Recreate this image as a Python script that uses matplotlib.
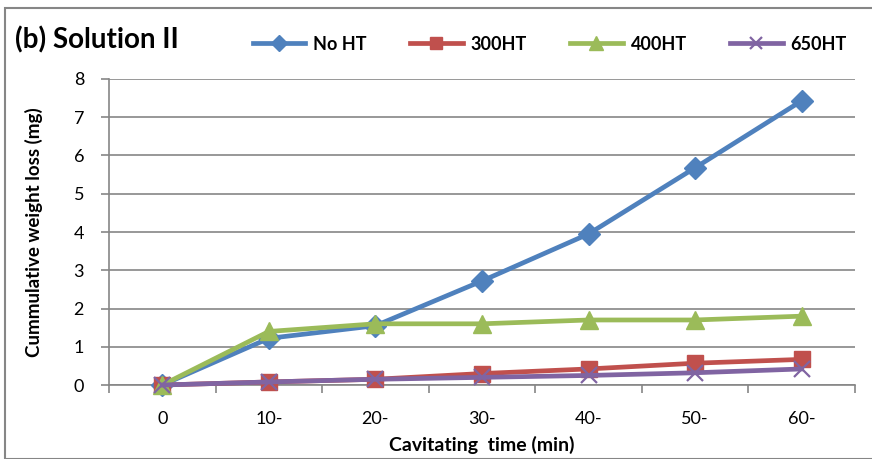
import matplotlib
matplotlib.use("Agg")
import matplotlib.pyplot as plt
from matplotlib.patches import Rectangle
import numpy as np

plt.rcParams['font.family'] = ['Lato', 'DejaVu Sans']

categories = ["0", "10-", "20-", "30-", "40-", "50-", "60-"]
no_ht = [0, 1.22, 1.55, 2.72, 3.95, 5.68, 7.43]
ht300 = [0, 0.08, 0.15, 0.30, 0.42, 0.57, 0.67]
ht400 = [0, 1.40, 1.60, 1.60, 1.70, 1.70, 1.80]
ht650 = [0, 0.08, 0.15, 0.20, 0.25, 0.32, 0.42]
yticks = [0, 1, 2, 3, 4, 5, 6, 7, 8]

fig = plt.figure(figsize=(8.72, 4.59), dpi=100)
ax = fig.add_axes([0.125, 0.1612, 0.8555, 0.6667])

x = np.arange(len(categories))
lw = 3.4
series = [
    ("No HT", no_ht, "#4F81BD", "D", 11),
    ("300HT", ht300, "#C0504D", "s", 11),
    ("400HT", ht400, "#9BBB59", "^", 13),
    ("650HT", ht650, "#8064A2", "x", 11),
]
handles = []
for name, vals, col, mk, ms in series:
    kw = dict(color=col, lw=lw, marker=mk, markersize=ms, markerfacecolor=col,
              markeredgecolor=col, label=name, clip_on=False, zorder=3)
    if mk == "x":
        kw["markeredgewidth"] = 1.6
    h, = ax.plot(x, vals, **kw)
    handles.append(h)

ax.set_xlim(-0.5, len(categories) - 0.5)
ax.set_ylim(0, 8)
ax.set_yticks(yticks)
ax.set_yticklabels([str(t) for t in yticks], fontsize=13)
ax.yaxis.grid(True, color="#868686", lw=1.2)
ax.set_axisbelow(True)
ax.set_xticks(x)
ax.set_xticklabels(categories, fontsize=13)
ax.tick_params(axis='x', length=0, pad=19)
ax.set_xticks(np.arange(-0.5, len(categories), 1), minor=True)
ax.tick_params(axis='x', which='minor', length=6, color="#868686", width=1.2, direction='out')
ax.tick_params(axis='y', length=6, color="#868686", width=1.2, direction='out', pad=12)
for s in ["top", "right"]:
    ax.spines[s].set_visible(False)
for s in ["left", "bottom"]:
    ax.spines[s].set_color("#868686")
    ax.spines[s].set_linewidth(1.2)

ax.set_xlabel("Cavitating  time (min)", fontsize=14, fontweight="bold", labelpad=6)
ax.set_ylabel("Cummulative weight loss (mg)", fontsize=13.5, fontweight="bold")
ax.yaxis.set_label_coords(-0.088, 0.5)

fig.text(0.017, 0.913, "(b) Solution II", fontsize=20, fontweight="bold", va="center", ha="left")

fig.legend(handles=handles, loc="center left", bbox_to_anchor=(0.29, 0.904), ncol=4,
           frameon=False, prop={'weight': 'bold', 'size': 13}, handlelength=2.9,
           columnspacing=2.4, handletextpad=0.45, markerscale=0.75,
           borderpad=0, borderaxespad=0)

fig.add_artist(Rectangle((5/872, 0), 1.2, 1 - 8/459, transform=fig.transFigure,
                         fill=False, edgecolor="#868686", lw=1.5))

fig.savefig("out.png", dpi=100)
